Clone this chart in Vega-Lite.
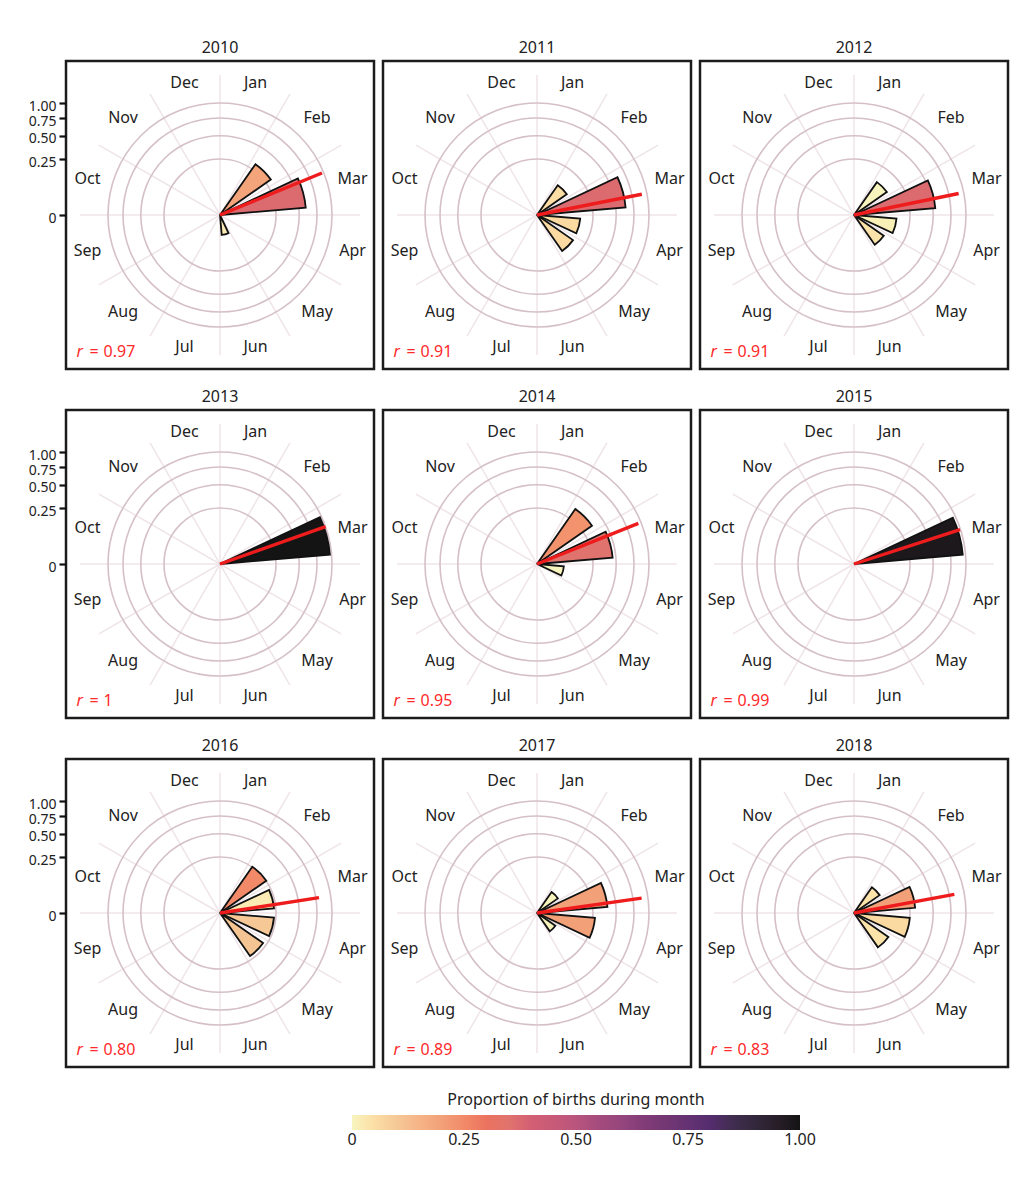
{
"$schema":"https://vega.github.io/schema/vega-lite/v6.json",
"padding":{"left":26,"top":38,"right":5,"bottom":10},
"datasets":{
"wedges":[
{"year":2010,"month":"Feb","mi":2,"v":0.306,"c":0.19},{"year":2010,"month":"Mar","mi":3,"v":0.59,"c":0.37},{"year":2010,"month":"Jun","mi":6,"v":0.032,"c":0.02},
{"year":2011,"month":"Feb","mi":2,"v":0.105,"c":0.05},{"year":2011,"month":"Mar","mi":3,"v":0.63,"c":0.37},{"year":2011,"month":"Apr","mi":4,"v":0.15,"c":0.06},{"year":2011,"month":"May","mi":5,"v":0.154,"c":0.06},
{"year":2012,"month":"Feb","mi":2,"v":0.128,"c":0.0},{"year":2012,"month":"Mar","mi":3,"v":0.53,"c":0.37},{"year":2012,"month":"Apr","mi":4,"v":0.145,"c":0.01},{"year":2012,"month":"May","mi":5,"v":0.105,"c":0.04},
{"year":2013,"month":"Mar","mi":3,"v":0.97,"c":1.0},
{"year":2014,"month":"Feb","mi":2,"v":0.358,"c":0.23},{"year":2014,"month":"Mar","mi":3,"v":0.459,"c":0.35},{"year":2014,"month":"Apr","mi":4,"v":0.058,"c":0.0},
{"year":2015,"month":"Mar","mi":3,"v":0.95,"c":0.98},
{"year":2016,"month":"Feb","mi":2,"v":0.254,"c":0.25},{"year":2016,"month":"Mar","mi":3,"v":0.234,"c":0.02},{"year":2016,"month":"Apr","mi":4,"v":0.234,"c":0.10},{"year":2016,"month":"May","mi":5,"v":0.22,"c":0.11},
{"year":2017,"month":"Feb","mi":2,"v":0.052,"c":0.0},{"year":2017,"month":"Mar","mi":3,"v":0.398,"c":0.2},{"year":2017,"month":"Apr","mi":4,"v":0.27,"c":0.2},{"year":2017,"month":"May","mi":5,"v":0.04,"c":0.0},
{"year":2018,"month":"Feb","mi":2,"v":0.078,"c":0.04},{"year":2018,"month":"Mar","mi":3,"v":0.30,"c":0.2},{"year":2018,"month":"Apr","mi":4,"v":0.25,"c":0.06},{"year":2018,"month":"May","mi":5,"v":0.14,"c":0.04}
],
"means":[
{"year":2010,"dir":3.253,"r":0.97,"rtext":"0.97"},
{"year":2011,"dir":3.627,"r":0.91,"rtext":"0.91"},
{"year":2012,"dir":3.613,"r":0.91,"rtext":"0.91"},
{"year":2013,"dir":3.35,"r":1.0,"rtext":"1"},
{"year":2014,"dir":3.273,"r":0.95,"rtext":"0.95"},
{"year":2015,"dir":3.403,"r":0.99,"rtext":"0.99"},
{"year":2016,"dir":3.707,"r":0.80,"rtext":"0.80"},
{"year":2017,"dir":3.73,"r":0.89,"rtext":"0.89"},
{"year":2018,"dir":3.65,"r":0.83,"rtext":"0.83"}
],
"months":[
{"month":"Jan","mi":1},{"month":"Feb","mi":2},{"month":"Mar","mi":3},{"month":"Apr","mi":4},{"month":"May","mi":5},{"month":"Jun","mi":6},
{"month":"Jul","mi":7},{"month":"Aug","mi":8},{"month":"Sep","mi":9},{"month":"Oct","mi":10},{"month":"Nov","mi":11},{"month":"Dec","mi":12}
],
"spokes":[{"b":1},{"b":2},{"b":3},{"b":4},{"b":5},{"b":6},{"b":7},{"b":8},{"b":9},{"b":10},{"b":11},{"b":12}],
"rings":[{"ring":0.25},{"ring":0.5},{"ring":0.75},{"ring":1.0}]
},
"spacing":16,
"vconcat":[
{"spacing":5,"hconcat":[
{"title":"2010","width":308,"height":308,"layer":[
{"data":{"name":"spokes"},"mark":{"type":"arc","fill":"transparent","stroke":"#efe5e8","strokeWidth":1.5},"encoding":{"theta":{"field":"b","type":"quantitative","scale":{"type":"linear","domain":[1,13],"range":[0,6.283185307],"zero":false,"nice":false}},"theta2":{"field":"b"},"radius":{"datum":1.56,"type":"quantitative","scale":{"type":"sqrt","domain":[0,1],"range":[0,112],"zero":true,"nice":false}}}},
{"data":{"name":"rings"},"mark":{"type":"arc","theta":0,"theta2":6.2832,"fill":"transparent","stroke":"#d5c0c8","strokeWidth":1.6},"encoding":{"radius":{"field":"ring","type":"quantitative","stack":null}}},
{"data":{"name":"wedges"},"transform":[{"filter":"datum.year === 2010"}],"mark":{"type":"arc","padAngle":0.17,"stroke":"#111111","strokeWidth":1.8,"strokeJoin":"miter"},"encoding":{"theta":{"field":"mi","type":"quantitative","bin":{"step":1,"extent":[1,13],"nice":false}},"radius":{"field":"v","type":"quantitative"},"color":{"field":"c","type":"quantitative","title":"Proportion of births during month","scale":{"type":"linear","domain":[0,0.05,0.1,0.15,0.2,0.25,0.3,0.35,0.4,0.45,0.5,0.55,0.6,0.65,0.7,0.75,0.8,0.85,0.9,0.95,1],"range":["#f8f4be","#fcdea5","#f5c896","#f6b487","#f2a078","#f28a69","#eb735f","#e1736e","#d25f73","#c85a78","#b9557d","#a54b7d","#96467d","#823c78","#733773","#643273","#552d6e","#412d50","#32283c","#281e28","#141414"]},"legend":{"orient":"none","direction":"horizontal","legendX":286,"legendY":1031,"gradientLength":448,"gradientThickness":15,"values":[0,0.25,0.5,0.75,1],"labelExpr":"datum.value == 0 ? '0' : format(datum.value, '.2f')","titleAnchor":"middle","titleLimit":600,"encode":{"labels":{"update":{"align":{"value":"center"}}}}}}}},
{"data":{"name":"means"},"transform":[{"filter":"datum.year === 2010"}],"mark":{"type":"arc","fill":"transparent","stroke":"#ee1c1c","strokeWidth":3.4},"encoding":{"theta":{"field":"dir","type":"quantitative"},"theta2":{"field":"dir"},"radius":{"field":"r","type":"quantitative"}}},
{"data":{"name":"months"},"mark":{"type":"text","fontSize":16,"color":"#222222"},"encoding":{"theta":{"field":"mi","type":"quantitative","bin":{"step":1,"extent":[1,13],"nice":false}},"radius":{"datum":1.5,"type":"quantitative"},"text":{"field":"month"}}},
{"data":{"name":"means"},"transform":[{"filter":"datum.year === 2010"}],"mark":{"type":"text","text":"r","fontStyle":"italic","align":"left","baseline":"alphabetic","fontSize":16,"color":"#ff2a2a"},"encoding":{"theta":{"datum":8.513,"type":"quantitative"},"radius":{"datum":3.237,"type":"quantitative"}}},
{"data":{"name":"means"},"transform":[{"filter":"datum.year === 2010"}],"mark":{"type":"text","text":"=","dx":13,"align":"left","baseline":"alphabetic","fontSize":16,"color":"#ff2a2a"},"encoding":{"theta":{"datum":8.513,"type":"quantitative"},"radius":{"datum":3.237,"type":"quantitative"}}},
{"data":{"name":"means"},"transform":[{"filter":"datum.year === 2010"}],"mark":{"type":"text","dx":27,"align":"left","baseline":"alphabetic","fontSize":16,"color":"#ff2a2a"},"encoding":{"theta":{"datum":8.513,"type":"quantitative"},"radius":{"datum":3.237,"type":"quantitative"},"text":{"field":"rtext"}}},
{"data":{"name":"rings"},"mark":{"type":"point","opacity":0},"encoding":{"y":{"field":"ring","type":"quantitative","scale":{"type":"sqrt","domain":[0,1],"range":[154,42],"zero":true,"nice":false},"axis":{"title":null,"values":[0,0.25,0.5,0.75,1],"labelExpr":"datum.value == 0 ? '0' : format(datum.value, '.2f')","domain":false,"grid":false,"tickColor":"#111111","tickWidth":2.2,"tickSize":7,"labelFontSize":14,"labelColor":"#222222","labelPadding":3,"labelOffset":3,"labelOverlap":false,"labelFlush":false,"labelBound":false}}}}
]},
{"title":"2011","width":308,"height":308,"layer":[
{"data":{"name":"spokes"},"mark":{"type":"arc","fill":"transparent","stroke":"#efe5e8","strokeWidth":1.5},"encoding":{"theta":{"field":"b","type":"quantitative","scale":{"type":"linear","domain":[1,13],"range":[0,6.283185307],"zero":false,"nice":false}},"theta2":{"field":"b"},"radius":{"datum":1.56,"type":"quantitative","scale":{"type":"sqrt","domain":[0,1],"range":[0,112],"zero":true,"nice":false}}}},
{"data":{"name":"rings"},"mark":{"type":"arc","theta":0,"theta2":6.2832,"fill":"transparent","stroke":"#d5c0c8","strokeWidth":1.6},"encoding":{"radius":{"field":"ring","type":"quantitative","stack":null}}},
{"data":{"name":"wedges"},"transform":[{"filter":"datum.year === 2011"}],"mark":{"type":"arc","padAngle":0.17,"stroke":"#111111","strokeWidth":1.8,"strokeJoin":"miter"},"encoding":{"theta":{"field":"mi","type":"quantitative","bin":{"step":1,"extent":[1,13],"nice":false}},"radius":{"field":"v","type":"quantitative"},"color":{"field":"c","type":"quantitative","title":"Proportion of births during month"}}},
{"data":{"name":"means"},"transform":[{"filter":"datum.year === 2011"}],"mark":{"type":"arc","fill":"transparent","stroke":"#ee1c1c","strokeWidth":3.4},"encoding":{"theta":{"field":"dir","type":"quantitative"},"theta2":{"field":"dir"},"radius":{"field":"r","type":"quantitative"}}},
{"data":{"name":"months"},"mark":{"type":"text","fontSize":16,"color":"#222222"},"encoding":{"theta":{"field":"mi","type":"quantitative","bin":{"step":1,"extent":[1,13],"nice":false}},"radius":{"datum":1.5,"type":"quantitative"},"text":{"field":"month"}}},
{"data":{"name":"means"},"transform":[{"filter":"datum.year === 2011"}],"mark":{"type":"text","text":"r","fontStyle":"italic","align":"left","baseline":"alphabetic","fontSize":16,"color":"#ff2a2a"},"encoding":{"theta":{"datum":8.513,"type":"quantitative"},"radius":{"datum":3.237,"type":"quantitative"}}},
{"data":{"name":"means"},"transform":[{"filter":"datum.year === 2011"}],"mark":{"type":"text","text":"=","dx":13,"align":"left","baseline":"alphabetic","fontSize":16,"color":"#ff2a2a"},"encoding":{"theta":{"datum":8.513,"type":"quantitative"},"radius":{"datum":3.237,"type":"quantitative"}}},
{"data":{"name":"means"},"transform":[{"filter":"datum.year === 2011"}],"mark":{"type":"text","dx":27,"align":"left","baseline":"alphabetic","fontSize":16,"color":"#ff2a2a"},"encoding":{"theta":{"datum":8.513,"type":"quantitative"},"radius":{"datum":3.237,"type":"quantitative"},"text":{"field":"rtext"}}},
{"data":{"name":"rings"},"mark":{"type":"point","opacity":0},"encoding":{"y":{"field":"ring","type":"quantitative","scale":{"type":"sqrt","domain":[0,1],"range":[154,42],"zero":true,"nice":false},"axis":null}}}
]},
{"title":"2012","width":308,"height":308,"layer":[
{"data":{"name":"spokes"},"mark":{"type":"arc","fill":"transparent","stroke":"#efe5e8","strokeWidth":1.5},"encoding":{"theta":{"field":"b","type":"quantitative","scale":{"type":"linear","domain":[1,13],"range":[0,6.283185307],"zero":false,"nice":false}},"theta2":{"field":"b"},"radius":{"datum":1.56,"type":"quantitative","scale":{"type":"sqrt","domain":[0,1],"range":[0,112],"zero":true,"nice":false}}}},
{"data":{"name":"rings"},"mark":{"type":"arc","theta":0,"theta2":6.2832,"fill":"transparent","stroke":"#d5c0c8","strokeWidth":1.6},"encoding":{"radius":{"field":"ring","type":"quantitative","stack":null}}},
{"data":{"name":"wedges"},"transform":[{"filter":"datum.year === 2012"}],"mark":{"type":"arc","padAngle":0.17,"stroke":"#111111","strokeWidth":1.8,"strokeJoin":"miter"},"encoding":{"theta":{"field":"mi","type":"quantitative","bin":{"step":1,"extent":[1,13],"nice":false}},"radius":{"field":"v","type":"quantitative"},"color":{"field":"c","type":"quantitative","title":"Proportion of births during month"}}},
{"data":{"name":"means"},"transform":[{"filter":"datum.year === 2012"}],"mark":{"type":"arc","fill":"transparent","stroke":"#ee1c1c","strokeWidth":3.4},"encoding":{"theta":{"field":"dir","type":"quantitative"},"theta2":{"field":"dir"},"radius":{"field":"r","type":"quantitative"}}},
{"data":{"name":"months"},"mark":{"type":"text","fontSize":16,"color":"#222222"},"encoding":{"theta":{"field":"mi","type":"quantitative","bin":{"step":1,"extent":[1,13],"nice":false}},"radius":{"datum":1.5,"type":"quantitative"},"text":{"field":"month"}}},
{"data":{"name":"means"},"transform":[{"filter":"datum.year === 2012"}],"mark":{"type":"text","text":"r","fontStyle":"italic","align":"left","baseline":"alphabetic","fontSize":16,"color":"#ff2a2a"},"encoding":{"theta":{"datum":8.513,"type":"quantitative"},"radius":{"datum":3.237,"type":"quantitative"}}},
{"data":{"name":"means"},"transform":[{"filter":"datum.year === 2012"}],"mark":{"type":"text","text":"=","dx":13,"align":"left","baseline":"alphabetic","fontSize":16,"color":"#ff2a2a"},"encoding":{"theta":{"datum":8.513,"type":"quantitative"},"radius":{"datum":3.237,"type":"quantitative"}}},
{"data":{"name":"means"},"transform":[{"filter":"datum.year === 2012"}],"mark":{"type":"text","dx":27,"align":"left","baseline":"alphabetic","fontSize":16,"color":"#ff2a2a"},"encoding":{"theta":{"datum":8.513,"type":"quantitative"},"radius":{"datum":3.237,"type":"quantitative"},"text":{"field":"rtext"}}},
{"data":{"name":"rings"},"mark":{"type":"point","opacity":0},"encoding":{"y":{"field":"ring","type":"quantitative","scale":{"type":"sqrt","domain":[0,1],"range":[154,42],"zero":true,"nice":false},"axis":null}}}
]}
]},
{"spacing":5,"hconcat":[
{"title":"2013","width":308,"height":308,"layer":[
{"data":{"name":"spokes"},"mark":{"type":"arc","fill":"transparent","stroke":"#efe5e8","strokeWidth":1.5},"encoding":{"theta":{"field":"b","type":"quantitative","scale":{"type":"linear","domain":[1,13],"range":[0,6.283185307],"zero":false,"nice":false}},"theta2":{"field":"b"},"radius":{"datum":1.56,"type":"quantitative","scale":{"type":"sqrt","domain":[0,1],"range":[0,112],"zero":true,"nice":false}}}},
{"data":{"name":"rings"},"mark":{"type":"arc","theta":0,"theta2":6.2832,"fill":"transparent","stroke":"#d5c0c8","strokeWidth":1.6},"encoding":{"radius":{"field":"ring","type":"quantitative","stack":null}}},
{"data":{"name":"wedges"},"transform":[{"filter":"datum.year === 2013"}],"mark":{"type":"arc","padAngle":0.17,"stroke":"#111111","strokeWidth":1.8,"strokeJoin":"miter"},"encoding":{"theta":{"field":"mi","type":"quantitative","bin":{"step":1,"extent":[1,13],"nice":false}},"radius":{"field":"v","type":"quantitative"},"color":{"field":"c","type":"quantitative","title":"Proportion of births during month"}}},
{"data":{"name":"means"},"transform":[{"filter":"datum.year === 2013"}],"mark":{"type":"arc","fill":"transparent","stroke":"#ee1c1c","strokeWidth":3.4},"encoding":{"theta":{"field":"dir","type":"quantitative"},"theta2":{"field":"dir"},"radius":{"field":"r","type":"quantitative"}}},
{"data":{"name":"months"},"mark":{"type":"text","fontSize":16,"color":"#222222"},"encoding":{"theta":{"field":"mi","type":"quantitative","bin":{"step":1,"extent":[1,13],"nice":false}},"radius":{"datum":1.5,"type":"quantitative"},"text":{"field":"month"}}},
{"data":{"name":"means"},"transform":[{"filter":"datum.year === 2013"}],"mark":{"type":"text","text":"r","fontStyle":"italic","align":"left","baseline":"alphabetic","fontSize":16,"color":"#ff2a2a"},"encoding":{"theta":{"datum":8.513,"type":"quantitative"},"radius":{"datum":3.237,"type":"quantitative"}}},
{"data":{"name":"means"},"transform":[{"filter":"datum.year === 2013"}],"mark":{"type":"text","text":"=","dx":13,"align":"left","baseline":"alphabetic","fontSize":16,"color":"#ff2a2a"},"encoding":{"theta":{"datum":8.513,"type":"quantitative"},"radius":{"datum":3.237,"type":"quantitative"}}},
{"data":{"name":"means"},"transform":[{"filter":"datum.year === 2013"}],"mark":{"type":"text","dx":27,"align":"left","baseline":"alphabetic","fontSize":16,"color":"#ff2a2a"},"encoding":{"theta":{"datum":8.513,"type":"quantitative"},"radius":{"datum":3.237,"type":"quantitative"},"text":{"field":"rtext"}}},
{"data":{"name":"rings"},"mark":{"type":"point","opacity":0},"encoding":{"y":{"field":"ring","type":"quantitative","scale":{"type":"sqrt","domain":[0,1],"range":[154,42],"zero":true,"nice":false},"axis":{"title":null,"values":[0,0.25,0.5,0.75,1],"labelExpr":"datum.value == 0 ? '0' : format(datum.value, '.2f')","domain":false,"grid":false,"tickColor":"#111111","tickWidth":2.2,"tickSize":7,"labelFontSize":14,"labelColor":"#222222","labelPadding":3,"labelOffset":3,"labelOverlap":false,"labelFlush":false,"labelBound":false}}}}
]},
{"title":"2014","width":308,"height":308,"layer":[
{"data":{"name":"spokes"},"mark":{"type":"arc","fill":"transparent","stroke":"#efe5e8","strokeWidth":1.5},"encoding":{"theta":{"field":"b","type":"quantitative","scale":{"type":"linear","domain":[1,13],"range":[0,6.283185307],"zero":false,"nice":false}},"theta2":{"field":"b"},"radius":{"datum":1.56,"type":"quantitative","scale":{"type":"sqrt","domain":[0,1],"range":[0,112],"zero":true,"nice":false}}}},
{"data":{"name":"rings"},"mark":{"type":"arc","theta":0,"theta2":6.2832,"fill":"transparent","stroke":"#d5c0c8","strokeWidth":1.6},"encoding":{"radius":{"field":"ring","type":"quantitative","stack":null}}},
{"data":{"name":"wedges"},"transform":[{"filter":"datum.year === 2014"}],"mark":{"type":"arc","padAngle":0.17,"stroke":"#111111","strokeWidth":1.8,"strokeJoin":"miter"},"encoding":{"theta":{"field":"mi","type":"quantitative","bin":{"step":1,"extent":[1,13],"nice":false}},"radius":{"field":"v","type":"quantitative"},"color":{"field":"c","type":"quantitative","title":"Proportion of births during month"}}},
{"data":{"name":"means"},"transform":[{"filter":"datum.year === 2014"}],"mark":{"type":"arc","fill":"transparent","stroke":"#ee1c1c","strokeWidth":3.4},"encoding":{"theta":{"field":"dir","type":"quantitative"},"theta2":{"field":"dir"},"radius":{"field":"r","type":"quantitative"}}},
{"data":{"name":"months"},"mark":{"type":"text","fontSize":16,"color":"#222222"},"encoding":{"theta":{"field":"mi","type":"quantitative","bin":{"step":1,"extent":[1,13],"nice":false}},"radius":{"datum":1.5,"type":"quantitative"},"text":{"field":"month"}}},
{"data":{"name":"means"},"transform":[{"filter":"datum.year === 2014"}],"mark":{"type":"text","text":"r","fontStyle":"italic","align":"left","baseline":"alphabetic","fontSize":16,"color":"#ff2a2a"},"encoding":{"theta":{"datum":8.513,"type":"quantitative"},"radius":{"datum":3.237,"type":"quantitative"}}},
{"data":{"name":"means"},"transform":[{"filter":"datum.year === 2014"}],"mark":{"type":"text","text":"=","dx":13,"align":"left","baseline":"alphabetic","fontSize":16,"color":"#ff2a2a"},"encoding":{"theta":{"datum":8.513,"type":"quantitative"},"radius":{"datum":3.237,"type":"quantitative"}}},
{"data":{"name":"means"},"transform":[{"filter":"datum.year === 2014"}],"mark":{"type":"text","dx":27,"align":"left","baseline":"alphabetic","fontSize":16,"color":"#ff2a2a"},"encoding":{"theta":{"datum":8.513,"type":"quantitative"},"radius":{"datum":3.237,"type":"quantitative"},"text":{"field":"rtext"}}},
{"data":{"name":"rings"},"mark":{"type":"point","opacity":0},"encoding":{"y":{"field":"ring","type":"quantitative","scale":{"type":"sqrt","domain":[0,1],"range":[154,42],"zero":true,"nice":false},"axis":null}}}
]},
{"title":"2015","width":308,"height":308,"layer":[
{"data":{"name":"spokes"},"mark":{"type":"arc","fill":"transparent","stroke":"#efe5e8","strokeWidth":1.5},"encoding":{"theta":{"field":"b","type":"quantitative","scale":{"type":"linear","domain":[1,13],"range":[0,6.283185307],"zero":false,"nice":false}},"theta2":{"field":"b"},"radius":{"datum":1.56,"type":"quantitative","scale":{"type":"sqrt","domain":[0,1],"range":[0,112],"zero":true,"nice":false}}}},
{"data":{"name":"rings"},"mark":{"type":"arc","theta":0,"theta2":6.2832,"fill":"transparent","stroke":"#d5c0c8","strokeWidth":1.6},"encoding":{"radius":{"field":"ring","type":"quantitative","stack":null}}},
{"data":{"name":"wedges"},"transform":[{"filter":"datum.year === 2015"}],"mark":{"type":"arc","padAngle":0.17,"stroke":"#111111","strokeWidth":1.8,"strokeJoin":"miter"},"encoding":{"theta":{"field":"mi","type":"quantitative","bin":{"step":1,"extent":[1,13],"nice":false}},"radius":{"field":"v","type":"quantitative"},"color":{"field":"c","type":"quantitative","title":"Proportion of births during month"}}},
{"data":{"name":"means"},"transform":[{"filter":"datum.year === 2015"}],"mark":{"type":"arc","fill":"transparent","stroke":"#ee1c1c","strokeWidth":3.4},"encoding":{"theta":{"field":"dir","type":"quantitative"},"theta2":{"field":"dir"},"radius":{"field":"r","type":"quantitative"}}},
{"data":{"name":"months"},"mark":{"type":"text","fontSize":16,"color":"#222222"},"encoding":{"theta":{"field":"mi","type":"quantitative","bin":{"step":1,"extent":[1,13],"nice":false}},"radius":{"datum":1.5,"type":"quantitative"},"text":{"field":"month"}}},
{"data":{"name":"means"},"transform":[{"filter":"datum.year === 2015"}],"mark":{"type":"text","text":"r","fontStyle":"italic","align":"left","baseline":"alphabetic","fontSize":16,"color":"#ff2a2a"},"encoding":{"theta":{"datum":8.513,"type":"quantitative"},"radius":{"datum":3.237,"type":"quantitative"}}},
{"data":{"name":"means"},"transform":[{"filter":"datum.year === 2015"}],"mark":{"type":"text","text":"=","dx":13,"align":"left","baseline":"alphabetic","fontSize":16,"color":"#ff2a2a"},"encoding":{"theta":{"datum":8.513,"type":"quantitative"},"radius":{"datum":3.237,"type":"quantitative"}}},
{"data":{"name":"means"},"transform":[{"filter":"datum.year === 2015"}],"mark":{"type":"text","dx":27,"align":"left","baseline":"alphabetic","fontSize":16,"color":"#ff2a2a"},"encoding":{"theta":{"datum":8.513,"type":"quantitative"},"radius":{"datum":3.237,"type":"quantitative"},"text":{"field":"rtext"}}},
{"data":{"name":"rings"},"mark":{"type":"point","opacity":0},"encoding":{"y":{"field":"ring","type":"quantitative","scale":{"type":"sqrt","domain":[0,1],"range":[154,42],"zero":true,"nice":false},"axis":null}}}
]}
]},
{"spacing":5,"hconcat":[
{"title":"2016","width":308,"height":308,"layer":[
{"data":{"name":"spokes"},"mark":{"type":"arc","fill":"transparent","stroke":"#efe5e8","strokeWidth":1.5},"encoding":{"theta":{"field":"b","type":"quantitative","scale":{"type":"linear","domain":[1,13],"range":[0,6.283185307],"zero":false,"nice":false}},"theta2":{"field":"b"},"radius":{"datum":1.56,"type":"quantitative","scale":{"type":"sqrt","domain":[0,1],"range":[0,112],"zero":true,"nice":false}}}},
{"data":{"name":"rings"},"mark":{"type":"arc","theta":0,"theta2":6.2832,"fill":"transparent","stroke":"#d5c0c8","strokeWidth":1.6},"encoding":{"radius":{"field":"ring","type":"quantitative","stack":null}}},
{"data":{"name":"wedges"},"transform":[{"filter":"datum.year === 2016"}],"mark":{"type":"arc","padAngle":0.17,"stroke":"#111111","strokeWidth":1.8,"strokeJoin":"miter"},"encoding":{"theta":{"field":"mi","type":"quantitative","bin":{"step":1,"extent":[1,13],"nice":false}},"radius":{"field":"v","type":"quantitative"},"color":{"field":"c","type":"quantitative","title":"Proportion of births during month"}}},
{"data":{"name":"means"},"transform":[{"filter":"datum.year === 2016"}],"mark":{"type":"arc","fill":"transparent","stroke":"#ee1c1c","strokeWidth":3.4},"encoding":{"theta":{"field":"dir","type":"quantitative"},"theta2":{"field":"dir"},"radius":{"field":"r","type":"quantitative"}}},
{"data":{"name":"months"},"mark":{"type":"text","fontSize":16,"color":"#222222"},"encoding":{"theta":{"field":"mi","type":"quantitative","bin":{"step":1,"extent":[1,13],"nice":false}},"radius":{"datum":1.5,"type":"quantitative"},"text":{"field":"month"}}},
{"data":{"name":"means"},"transform":[{"filter":"datum.year === 2016"}],"mark":{"type":"text","text":"r","fontStyle":"italic","align":"left","baseline":"alphabetic","fontSize":16,"color":"#ff2a2a"},"encoding":{"theta":{"datum":8.513,"type":"quantitative"},"radius":{"datum":3.237,"type":"quantitative"}}},
{"data":{"name":"means"},"transform":[{"filter":"datum.year === 2016"}],"mark":{"type":"text","text":"=","dx":13,"align":"left","baseline":"alphabetic","fontSize":16,"color":"#ff2a2a"},"encoding":{"theta":{"datum":8.513,"type":"quantitative"},"radius":{"datum":3.237,"type":"quantitative"}}},
{"data":{"name":"means"},"transform":[{"filter":"datum.year === 2016"}],"mark":{"type":"text","dx":27,"align":"left","baseline":"alphabetic","fontSize":16,"color":"#ff2a2a"},"encoding":{"theta":{"datum":8.513,"type":"quantitative"},"radius":{"datum":3.237,"type":"quantitative"},"text":{"field":"rtext"}}},
{"data":{"name":"rings"},"mark":{"type":"point","opacity":0},"encoding":{"y":{"field":"ring","type":"quantitative","scale":{"type":"sqrt","domain":[0,1],"range":[154,42],"zero":true,"nice":false},"axis":{"title":null,"values":[0,0.25,0.5,0.75,1],"labelExpr":"datum.value == 0 ? '0' : format(datum.value, '.2f')","domain":false,"grid":false,"tickColor":"#111111","tickWidth":2.2,"tickSize":7,"labelFontSize":14,"labelColor":"#222222","labelPadding":3,"labelOffset":3,"labelOverlap":false,"labelFlush":false,"labelBound":false}}}}
]},
{"title":"2017","width":308,"height":308,"layer":[
{"data":{"name":"spokes"},"mark":{"type":"arc","fill":"transparent","stroke":"#efe5e8","strokeWidth":1.5},"encoding":{"theta":{"field":"b","type":"quantitative","scale":{"type":"linear","domain":[1,13],"range":[0,6.283185307],"zero":false,"nice":false}},"theta2":{"field":"b"},"radius":{"datum":1.56,"type":"quantitative","scale":{"type":"sqrt","domain":[0,1],"range":[0,112],"zero":true,"nice":false}}}},
{"data":{"name":"rings"},"mark":{"type":"arc","theta":0,"theta2":6.2832,"fill":"transparent","stroke":"#d5c0c8","strokeWidth":1.6},"encoding":{"radius":{"field":"ring","type":"quantitative","stack":null}}},
{"data":{"name":"wedges"},"transform":[{"filter":"datum.year === 2017"}],"mark":{"type":"arc","padAngle":0.17,"stroke":"#111111","strokeWidth":1.8,"strokeJoin":"miter"},"encoding":{"theta":{"field":"mi","type":"quantitative","bin":{"step":1,"extent":[1,13],"nice":false}},"radius":{"field":"v","type":"quantitative"},"color":{"field":"c","type":"quantitative","title":"Proportion of births during month"}}},
{"data":{"name":"means"},"transform":[{"filter":"datum.year === 2017"}],"mark":{"type":"arc","fill":"transparent","stroke":"#ee1c1c","strokeWidth":3.4},"encoding":{"theta":{"field":"dir","type":"quantitative"},"theta2":{"field":"dir"},"radius":{"field":"r","type":"quantitative"}}},
{"data":{"name":"months"},"mark":{"type":"text","fontSize":16,"color":"#222222"},"encoding":{"theta":{"field":"mi","type":"quantitative","bin":{"step":1,"extent":[1,13],"nice":false}},"radius":{"datum":1.5,"type":"quantitative"},"text":{"field":"month"}}},
{"data":{"name":"means"},"transform":[{"filter":"datum.year === 2017"}],"mark":{"type":"text","text":"r","fontStyle":"italic","align":"left","baseline":"alphabetic","fontSize":16,"color":"#ff2a2a"},"encoding":{"theta":{"datum":8.513,"type":"quantitative"},"radius":{"datum":3.237,"type":"quantitative"}}},
{"data":{"name":"means"},"transform":[{"filter":"datum.year === 2017"}],"mark":{"type":"text","text":"=","dx":13,"align":"left","baseline":"alphabetic","fontSize":16,"color":"#ff2a2a"},"encoding":{"theta":{"datum":8.513,"type":"quantitative"},"radius":{"datum":3.237,"type":"quantitative"}}},
{"data":{"name":"means"},"transform":[{"filter":"datum.year === 2017"}],"mark":{"type":"text","dx":27,"align":"left","baseline":"alphabetic","fontSize":16,"color":"#ff2a2a"},"encoding":{"theta":{"datum":8.513,"type":"quantitative"},"radius":{"datum":3.237,"type":"quantitative"},"text":{"field":"rtext"}}},
{"data":{"name":"rings"},"mark":{"type":"point","opacity":0},"encoding":{"y":{"field":"ring","type":"quantitative","scale":{"type":"sqrt","domain":[0,1],"range":[154,42],"zero":true,"nice":false},"axis":null}}}
]},
{"title":"2018","width":308,"height":308,"layer":[
{"data":{"name":"spokes"},"mark":{"type":"arc","fill":"transparent","stroke":"#efe5e8","strokeWidth":1.5},"encoding":{"theta":{"field":"b","type":"quantitative","scale":{"type":"linear","domain":[1,13],"range":[0,6.283185307],"zero":false,"nice":false}},"theta2":{"field":"b"},"radius":{"datum":1.56,"type":"quantitative","scale":{"type":"sqrt","domain":[0,1],"range":[0,112],"zero":true,"nice":false}}}},
{"data":{"name":"rings"},"mark":{"type":"arc","theta":0,"theta2":6.2832,"fill":"transparent","stroke":"#d5c0c8","strokeWidth":1.6},"encoding":{"radius":{"field":"ring","type":"quantitative","stack":null}}},
{"data":{"name":"wedges"},"transform":[{"filter":"datum.year === 2018"}],"mark":{"type":"arc","padAngle":0.17,"stroke":"#111111","strokeWidth":1.8,"strokeJoin":"miter"},"encoding":{"theta":{"field":"mi","type":"quantitative","bin":{"step":1,"extent":[1,13],"nice":false}},"radius":{"field":"v","type":"quantitative"},"color":{"field":"c","type":"quantitative","title":"Proportion of births during month"}}},
{"data":{"name":"means"},"transform":[{"filter":"datum.year === 2018"}],"mark":{"type":"arc","fill":"transparent","stroke":"#ee1c1c","strokeWidth":3.4},"encoding":{"theta":{"field":"dir","type":"quantitative"},"theta2":{"field":"dir"},"radius":{"field":"r","type":"quantitative"}}},
{"data":{"name":"months"},"mark":{"type":"text","fontSize":16,"color":"#222222"},"encoding":{"theta":{"field":"mi","type":"quantitative","bin":{"step":1,"extent":[1,13],"nice":false}},"radius":{"datum":1.5,"type":"quantitative"},"text":{"field":"month"}}},
{"data":{"name":"means"},"transform":[{"filter":"datum.year === 2018"}],"mark":{"type":"text","text":"r","fontStyle":"italic","align":"left","baseline":"alphabetic","fontSize":16,"color":"#ff2a2a"},"encoding":{"theta":{"datum":8.513,"type":"quantitative"},"radius":{"datum":3.237,"type":"quantitative"}}},
{"data":{"name":"means"},"transform":[{"filter":"datum.year === 2018"}],"mark":{"type":"text","text":"=","dx":13,"align":"left","baseline":"alphabetic","fontSize":16,"color":"#ff2a2a"},"encoding":{"theta":{"datum":8.513,"type":"quantitative"},"radius":{"datum":3.237,"type":"quantitative"}}},
{"data":{"name":"means"},"transform":[{"filter":"datum.year === 2018"}],"mark":{"type":"text","dx":27,"align":"left","baseline":"alphabetic","fontSize":16,"color":"#ff2a2a"},"encoding":{"theta":{"datum":8.513,"type":"quantitative"},"radius":{"datum":3.237,"type":"quantitative"},"text":{"field":"rtext"}}},
{"data":{"name":"rings"},"mark":{"type":"point","opacity":0},"encoding":{"y":{"field":"ring","type":"quantitative","scale":{"type":"sqrt","domain":[0,1],"range":[154,42],"zero":true,"nice":false},"axis":null}}}
]}
]}
],
"config":{
"font":"Noto Sans",
"view":{"stroke":"#1c1c1c","strokeWidth":2.5},
"title":{"fontSize":16,"fontWeight":"normal","color":"#222222","offset":5},
"legend":{"titleFontSize":16,"titleFontWeight":"normal","titleColor":"#222222","labelFontSize":16,"labelColor":"#222222","titlePadding":7,"labelOffset":11,"gradientStrokeWidth":0,"labelOverlap":false}
}
}
